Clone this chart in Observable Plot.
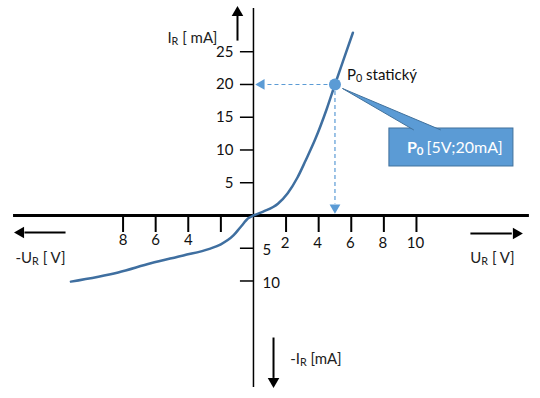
<!DOCTYPE html>
<html>
<head>
<meta charset="utf-8">
<script src="https://cdn.jsdelivr.net/npm/d3@7"></script>
<script src="https://cdn.jsdelivr.net/npm/@observablehq/plot@0.6"></script>
<style>
  html, body { margin: 0; padding: 0; background: #ffffff; }
  #chart { width: 540px; height: 398px; }
</style>
</head>
<body>
<div id="chart"></div>
<script>
// ---- Diode V-A characteristic ----
const curveU = [-11.2, -8.3, -6.3, -4.3, -2.7, -2.0, -1.23, -0.8, -0.3, 0, 0.6, 1.5, 2.1, 2.7, 3.2, 3.8, 4.5, 5.0, 5.5, 6.1];
const curveI = [-10.1, -8.7, -7.3, -6.1, -5.1, -4.4, -3.05, -1.8, -0.4, 0, 0.6, 1.8, 3.4, 5.8, 8.4, 11.7, 16.3, 20, 23.6, 27.9];

// operating point
const pointU = [5];
const pointI = [20];

// ticks and their labels
const xTicksPos = [2, 4, 6, 8, 10];
const xTickLabelsPos = ["2", "4", "6", "8", "10"];
const xTicksNeg = [-2, -4, -6, -8];
const xTickLabelsNeg = ["", "4", "6", "8"];
const yTicksPos = [5, 10, 15, 20, 25];
const yTickLabelsPos = ["5", "10", "15", "20", "25"];
const yTicksNeg = [-5, -10];
const yTickLabelsNeg = ["5", "10"];

// axis titles
const titleIR = "I_R [ mA]";
const titleNegUR = "-U_R [ V]";
const titleUR = "U_R [ V]";
const titleNegIR = "-I_R [mA]";
const pointLabel = "P_0 statický";
const calloutBold = "P_0";
const calloutText = "[5V;20mA]";

// ---- scale geometry (data units) ----
const X_DOMAIN = [-15.52, 17.61];
const Y_DOMAIN = [-27.94, 32.82];

const curve = curveU.map((u, i) => ({u, i: curveI[i]}));
const point = pointU.map((u, k) => ({u, i: pointI[k]}));

// annotation geometry in data units
const hAxis = [{x1: -14.72, x2: 16.93, y: 0}];
const vAxis = [{y1: -26.26, y2: 31.6, x: 0}];
const arrowShafts = [
  {x1: -0.98, y1: 26.7, x2: -0.98, y2: 30.6},   // up (I_R)
  {x1: -11.53, y1: -2.6, x2: -14.05, y2: -2.6}, // left (-U_R)
  {x1: 13.31, y1: -2.75, x2: 15.85, y2: -2.75}, // right (U_R)
  {x1: 1.23, y1: -18.63, x2: 1.23, y2: -24.8}   // down (-I_R)
];
const arrowHeads = [
  {x: -0.98, y: 30.96, r: 0},
  {x: -14.28, y: -2.6, r: 270},
  {x: 16.12, y: -2.75, r: 90},
  {x: 1.23, y: -25.31, r: 180}
];
const guideH = [{x1: 5, x2: 0.72, y: 20}];
const guideV = [{y1: 20, y2: 1.75, x: 5}];
const guideHeads = [
  {x: 0.49, y: 20, r: 270},
  {x: 5, y: 1.22, r: 180}
];
const callBox = [{x1: 8.34, x2: 15.95, y1: 7.48, y2: 13.28}];
const pointer = [
  {x: 9.82, y: 13.08}, {x: 5.46, y: 19.39}, {x: 11.47, y: 13.08}
];
const callCenter = {x: 12.15, y: 10.38};

const blue = "#5b9bd5";
const blueDark = "#41719c";
const curveColor = "#3f6fa0";

const svg = Plot.plot({
  width: 540,
  height: 398,
  margin: 0,
  x: {domain: X_DOMAIN, axis: null},
  y: {domain: Y_DOMAIN, axis: null},
  style: {fontFamily: "Lato, 'Open Sans', sans-serif", fontSize: "15px", background: "#ffffff", color: "#000"},
  marks: [
    // axes
    Plot.ruleY(hAxis, {y: "y", x1: "x1", x2: "x2", stroke: "#000", strokeWidth: 3}),
    Plot.ruleX(vAxis, {x: "x", y1: "y1", y2: "y2", stroke: "#000", strokeWidth: 1.5}),
    // ticks
    Plot.ruleX(xTicksPos, {x: d => d, y1: 0, y2: -2.6, stroke: "#000", strokeWidth: 2}),
    Plot.ruleX(xTicksNeg, {x: d => d, y1: 0, y2: -2.6, stroke: "#000", strokeWidth: 2}),
    Plot.ruleY(yTicksPos, {y: d => d, x1: -0.8, x2: 0, stroke: "#000", strokeWidth: 1.5}),
    Plot.ruleY(yTicksNeg, {y: d => d, x1: -0.8, x2: 0, stroke: "#000", strokeWidth: 1.5}),
    // tick labels
    Plot.text(xTicksPos, {x: d => d, y: 0, text: (d, i) => xTickLabelsPos[i], dy: 28, dx: -1, fill: "#111"}),
    Plot.text(xTicksNeg, {x: d => d, y: 0, text: (d, i) => xTickLabelsNeg[i], dy: 25, fill: "#111"}),
    Plot.text(yTicksPos, {x: -0.8, y: d => d, text: (d, i) => yTickLabelsPos[i], textAnchor: "end", dx: -7, fill: "#111"}),
    Plot.text(yTicksNeg, {x: 0, y: d => d, text: (d, i) => yTickLabelsNeg[i], textAnchor: "start", dx: 9, dy: 2, fill: "#111"}),
    // axis direction arrows
    Plot.link(arrowShafts, {x1: "x1", y1: "y1", x2: "x2", y2: "y2", stroke: "#000", strokeWidth: 2}),
    Plot.dot(arrowHeads, {x: "x", y: "y", rotate: "r", symbol: "triangle", r: 4.3, fill: "#000", stroke: "none"}),
    // axis titles
    Plot.text([titleIR], {x: -2.21, y: 27.0, text: d => d, textAnchor: "end", fill: "#222"}),
    Plot.text([titleNegUR], {x: -14.6, y: -6.5, text: d => d, textAnchor: "start", fill: "#222"}),
    Plot.text([titleUR], {x: 13.3, y: -6.5, text: d => d, textAnchor: "start", fill: "#222"}),
    Plot.text([titleNegIR], {x: 2.25, y: -22.0, text: d => d, textAnchor: "start", fill: "#222"}),
    // guide lines to operating point
    Plot.ruleY(guideH, {y: "y", x1: "x1", x2: "x2", stroke: blue, strokeWidth: 1.2, strokeDasharray: "4,3"}),
    Plot.ruleX(guideV, {x: "x", y1: "y1", y2: "y2", stroke: blue, strokeWidth: 1.2, strokeDasharray: "4,3"}),
    Plot.dot(guideHeads, {x: "x", y: "y", rotate: "r", symbol: "triangle", r: 4, fill: blue, stroke: "none"}),
    // characteristic curve
    Plot.line(curve, {x: "u", y: "i", curve: "monotone-x", stroke: curveColor, strokeWidth: 2.5}),
    // operating point
    Plot.dot(point, {x: "u", y: "i", r: 6, fill: blue, stroke: "none"}),
    Plot.text([pointLabel], {x: pointU[0], y: pointI[0], text: d => d, textAnchor: "start", dx: 12, dy: -9, fill: "#111"}),
    // callout
    Plot.rect(callBox, {x1: "x1", x2: "x2", y1: "y1", y2: "y2", fill: blue, stroke: blueDark, strokeWidth: 1}),
    Plot.line(pointer, {x: "x", y: "y", fill: blue, stroke: blueDark, strokeWidth: 1, curve: "linear"}),
    Plot.text([calloutBold], {x: callCenter.x, y: callCenter.y, text: d => d, textAnchor: "end", dx: -28, fill: "#fff", fontWeight: "bold", fontSize: 16}),
    Plot.text([calloutText], {x: callCenter.x, y: callCenter.y, text: d => d, textAnchor: "start", dx: -25, fill: "#fff", fontSize: 16})
  ]
});

// render "_X" as a subscript X, keeping real text
d3.select(svg).selectAll("text").each(function () {
  const t = this.textContent;
  if (!t || !t.includes("_")) return;
  const parts = t.split(/_(\S)/);
  this.textContent = "";
  const sel = d3.select(this);
  parts.forEach((p, i) => {
    if (!p) return;
    const ts = sel.append("tspan").text(p);
    if (i % 2 === 1) ts.attr("font-size", "0.72em").attr("dy", "2");
    else if (i > 0) ts.attr("dy", "-2");
  });
});

document.getElementById("chart").appendChild(svg);
</script>
</body>
</html>
